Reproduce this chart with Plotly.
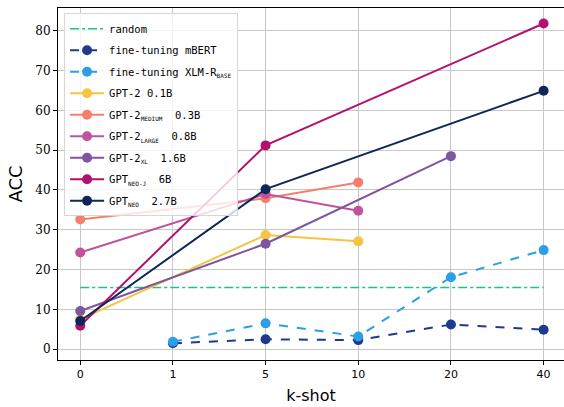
import plotly.graph_objects as go

shots = ["0", "1", "5", "10", "20", "40"]

random_acc = 15.5

mbert_x = ["1", "5", "10", "20", "40"]
mbert_y = [1.5, 2.5, 2.3, 6.2, 4.9]

xlmr_x = ["1", "5", "10", "20", "40"]
xlmr_y = [1.9, 6.5, 3.2, 18.1, 24.9]

gpt2_x = ["0", "5", "10"]
gpt2_y = [7.5, 28.7, 27.1]

gpt2m_x = ["0", "5", "10"]
gpt2m_y = [32.6, 37.9, 41.9]

gpt2l_x = ["0", "5", "10"]
gpt2l_y = [24.3, 39.0, 34.8]

gpt2xl_x = ["0", "5", "20"]
gpt2xl_y = [9.6, 26.5, 48.5]

neoj_x = ["0", "5", "40"]
neoj_y = [5.9, 51.2, 81.8]

neo_x = ["0", "5", "40"]
neo_y = [7.1, 40.2, 64.9]

y_ticks = [0, 10, 20, 30, 40, 50, 60, 70, 80]

def sub(t):
    return "<sub><span style='font-size:6px'>" + t + "</span></sub>"

fig = go.Figure()

fig.add_trace(go.Scatter(x=shots, y=[random_acc] * len(shots),
                         mode="lines", name="random", legendgroup="g0",
                         line=dict(color="#21c08b", width=1.6, dash="dashdot")))

series = [
    ("fine-tuning mBERT", mbert_x, mbert_y, "#1e3a8f", "dash"),
    ("fine-tuning XLM-R" + sub("BASE"), xlmr_x, xlmr_y, "#2c9fe6", "dash"),
    ("GPT-2 0.1B", gpt2_x, gpt2_y, "#f6c443", "solid"),
    ("GPT-2" + sub("MEDIUM") + "  0.3B", gpt2m_x, gpt2m_y, "#f4806b", "solid"),
    ("GPT-2" + sub("LARGE") + "  0.8B", gpt2l_x, gpt2l_y, "#c2529c", "solid"),
    ("GPT-2" + sub("XL") + "  1.6B", gpt2xl_x, gpt2xl_y, "#7d55a0", "solid"),
    ("GPT" + sub("NEO-J") + "  6B", neoj_x, neoj_y, "#b3106f", "solid"),
    ("GPT" + sub("NEO") + "  2.7B", neo_x, neo_y, "#0e2758", "solid"),
]

for i, (name, xs, ys, c, d) in enumerate(series):
    fig.add_trace(go.Scatter(x=xs, y=ys, mode="lines+markers", name=name,
                             legendgroup="g%d" % (i + 1),
                             line=dict(color=c, width=2, dash=d),
                             marker=dict(color=c, size=10)))

fig.update_layout(
    width=564, height=407,
    margin=dict(l=58, r=0, t=8, b=47),
    plot_bgcolor="white", paper_bgcolor="white",
    showlegend=True,
    legend=dict(x=0.012, y=0.985, xanchor="left", yanchor="top",
                bgcolor="rgba(255,255,255,0.8)", bordercolor="#d6d6d6", borderwidth=1,
                font=dict(family="DejaVu Sans Mono", size=10.5, color="black"),
                tracegroupgap=2.5, itemwidth=34),
    xaxis=dict(type="category", categoryorder="array", categoryarray=shots,
               range=[-0.24, 5.22], showgrid=True, gridcolor="#c8c8c8", gridwidth=1,
               showline=True, linecolor="black", linewidth=1, mirror=True,
               ticks="outside", ticklen=4, tickcolor="black",
               tickfont=dict(family="DejaVu Sans", size=11, color="black"),
               title=dict(text="k-shot", font=dict(family="DejaVu Sans", size=16, color="black"), standoff=9)),
    yaxis=dict(range=[-2.7, 85.7], tickvals=y_ticks, showgrid=True, gridcolor="#c8c8c8", gridwidth=1,
               zeroline=False, showline=True, linecolor="black", linewidth=1,
               ticks="outside", ticklen=4, tickcolor="black",
               tickfont=dict(family="DejaVu Serif", size=12, color="black"),
               title=dict(text="ACC", font=dict(family="DejaVu Sans", size=18, color="black"), standoff=8)),
)

fig.write_html("out.html", config={"displayModeBar": False},
               post_script="document.body.style.margin='0';document.body.style.overflow='hidden';")
